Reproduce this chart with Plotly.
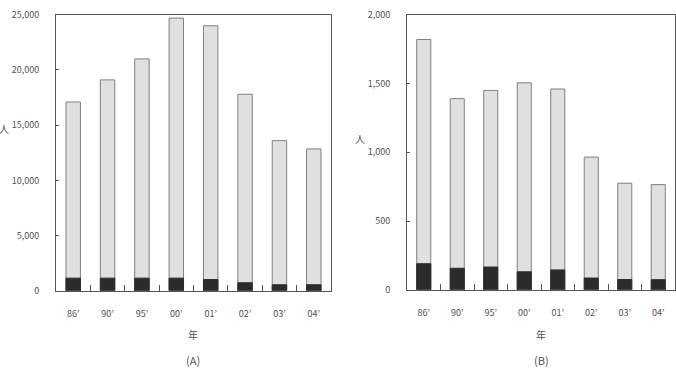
import plotly.graph_objects as go

years = ["86’", "90’", "95’", "00’", "01’", "02’", "03’", "04’"]
a_total = [17100, 19100, 21000, 24700, 24000, 17800, 13600, 12850]
a_part = [1150, 1150, 1150, 1150, 1020, 730, 550, 550]
b_total = [1820, 1390, 1450, 1505, 1460, 965, 775, 765]
b_part = [190, 157, 166, 131, 145, 86, 75, 74]

W, H = 676, 376
FONT = "Noto Sans CJK JP"
TXT = "#505050"
LINE = "#555555"
LIGHT = "#e0e0e0"
DARK = "#2b2b2b"

fig = go.Figure()
for tot, part, xa, ya in [(a_total, a_part, "x", "y"), (b_total, b_part, "x2", "y2")]:
    fig.add_trace(go.Bar(x=years, y=tot, xaxis=xa, yaxis=ya,
                         marker=dict(color=LIGHT, line=dict(color="#808080", width=1)),
                         showlegend=False, hoverinfo="skip"))
    fig.add_trace(go.Bar(x=years, y=part, xaxis=xa, yaxis=ya,
                         marker=dict(color=DARK, line=dict(color=DARK, width=1)),
                         showlegend=False, hoverinfo="skip"))

def py(p):
    return 1 - p / H

def px(p):
    return p / W

xcommon = dict(type="category", showline=True, linecolor=LINE, linewidth=1, mirror=True,
               ticks="inside", tickson="boundaries", ticklen=6, tickcolor=LINE,
               tickfont=dict(family=FONT, size=9, color=TXT), ticklabelstandoff=14,
               showgrid=False, zeroline=False, fixedrange=True)
ycommon = dict(showline=True, linecolor=LINE, linewidth=1, mirror=True,
               ticks="inside", ticklen=3, tickcolor=LINE, tickformat=",d",
               tickfont=dict(family=FONT, size=9, color=TXT), ticklabelstandoff=14,
               showgrid=False, zeroline=False, fixedrange=True)

fig.update_layout(
    width=W, height=H, margin=dict(l=0, r=0, t=0, b=0),
    paper_bgcolor="white", plot_bgcolor="white",
    barmode="overlay", bargap=0.58,
    xaxis=dict(domain=[px(56), px(331)], anchor="y", **xcommon),
    yaxis=dict(domain=[py(294), py(8)], anchor="x", range=[0, 25000], dtick=5000, **ycommon),
    xaxis2=dict(domain=[px(407), px(675)], anchor="y2", **xcommon),
    yaxis2=dict(domain=[py(293), py(8)], anchor="x2", range=[0, 2000], dtick=500, **ycommon),
)

labels = [
    ("人", 4, 126, 10), ("年", 193, 339, 10), ("(A)", 193, 366, 11),
    ("人", 360, 136, 10), ("年", 541, 339, 10), ("(B)", 541, 366, 11),
]
for t, x, y, s in labels:
    fig.add_annotation(text=t, x=px(x), y=py(y), xref="paper", yref="paper",
                       xanchor="center", yanchor="middle", showarrow=False,
                       font=dict(family=FONT, size=s, color=TXT))

fig.write_html("out.html")
